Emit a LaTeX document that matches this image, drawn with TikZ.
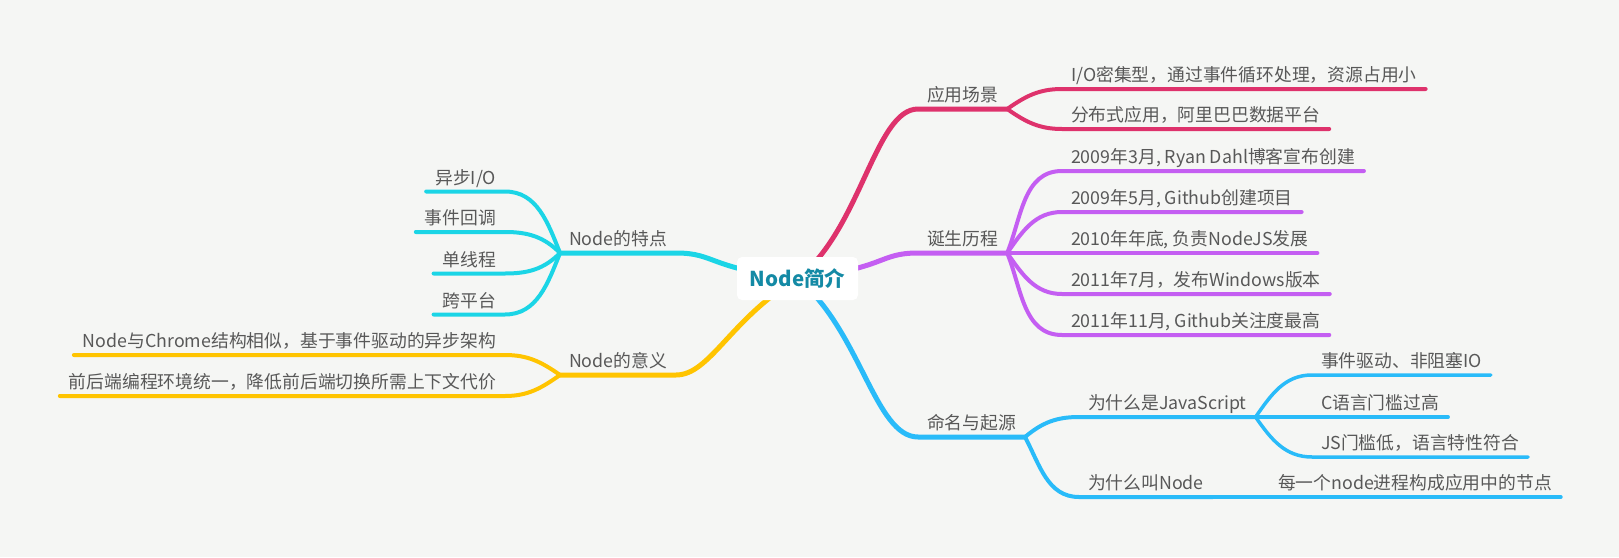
\documentclass[tikz,border=0pt]{standalone}
\usepackage{fontspec}
\setmainfont{Noto Sans CJK SC}
\usepackage{tikz}

\definecolor{paper}{RGB}{245,246,244}
\definecolor{inkgray}{RGB}{88,88,88}
\definecolor{roottext}{RGB}{20,138,165}
\definecolor{appred}{RGB}{222,50,108}
\definecolor{histpurple}{RGB}{196,94,242}
\definecolor{origblue}{RGB}{41,187,249}
\definecolor{featcyan}{RGB}{27,213,230}
\definecolor{meanyellow}{RGB}{255,196,0}

\pgfdeclarelayer{paperlayer}
\pgfdeclarelayer{linklayer}
\pgfsetlayers{paperlayer,linklayer,main}

\tikzset{
  topic/.style={text=inkgray, inner xsep=9pt, inner ysep=4pt, text depth=3.5pt, outer sep=0pt},
  topic r/.style={topic, anchor=south west},
  topic l/.style={topic, anchor=south east},
  centrebox/.style={fill=white, rounded corners=5pt, minimum width=121pt, minimum height=43pt,
    text=roottext, font=\fontsize{20.5}{24}\selectfont\bfseries},
  trunk/.style={line width=5pt, line cap=round},
  link/.style={line width=4pt, line cap=round},
  twig/.style={line width=3.5pt, line cap=round}
}

\begin{document}
\begin{tikzpicture}[
  font=\fontsize{17.8}{21}\selectfont,
  % one unit is one pixel of the 1619x557 sheet
  x=1pt,
  y=1pt
]

% Sheet (top left corner is (0,0), rows go downward)
\useasboundingbox (0,0) rectangle (1619,-557);
\begin{pgfonlayer}{paperlayer}
  \fill[paper] (0,0) rectangle (1619,-557);
\end{pgfonlayer}

% 1) Centre topic
\node[centrebox] (root) at (797.5,-278.5) {Node简介};

% 2) Main topics, the text sits on its own underline
\node[topic r] (app)  at (918,-109) {应用场景};
\node[topic r] (hist) at (918,-253) {诞生历程};
\node[topic r] (orig) at (918,-437) {命名与起源};
\node[topic l] (feat) at (676,-253) {Node的特点};
\node[topic l] (mean) at (676,-375) {Node的意义};

% 3) Right side sub topics
\node[topic r] (io)   at (1062,-89)  {I/O密集型，通过事件循环处理，资源占用小};
\node[topic r] (dist) at (1062,-129) {分布式应用，阿里巴巴数据平台};

\node[topic r] (h1) at (1062,-171) {2009年3月, Ryan Dahl博客宣布创建};
\node[topic r] (h2) at (1062,-212) {2009年5月, Github创建项目};
\node[topic r] (h3) at (1062,-253) {2010年年底, 负责NodeJS发展};
\node[topic r] (h4) at (1062,-294) {2011年7月，发布Windows版本};
\node[topic r] (h5) at (1062,-335) {2011年11月, Github关注度最高};

\node[topic r] (whyjs)    at (1079,-417) {为什么是JavaScript};
\node[topic r] (whynode)  at (1079,-497) {为什么叫Node};
\node[topic r] (js1)      at (1312,-375) {事件驱动、非阻塞IO};
\node[topic r] (js2)      at (1312,-417) {C语言门槛过高};
\node[topic r] (js3)      at (1312,-457) {JS门槛低，语言特性符合};
\node[topic r] (nodeleaf) at (1269,-497) {每一个node进程构成应用中的节点};

% 4) Left side sub topics (right aligned)
\node[topic l] (f1) at (505,-191.5) {异步I/O};
\node[topic l] (f2) at (505,-232)   {事件回调};
\node[topic l] (f3) at (505,-273.5) {单线程};
\node[topic l] (f4) at (505,-314.5) {跨平台};
\node[topic l] (m1) at (505,-355)   {Node与Chrome结构相似，基于事件驱动的异步架构};
\node[topic l] (m2) at (505,-396)   {前后端编程环境统一，降低前后端切换所需上下文代价};

\begin{pgfonlayer}{linklayer}
% 5) Branches out of the centre box
\draw[trunk,appred]     (root.center) .. controls +(63,48) and +(-43,0) .. (app.south west) -- (app.south east);
\draw[trunk,histpurple] (root.center) .. controls +(90,10) and +(-40,0) .. (hist.south west) -- (hist.south east);
\draw[trunk,origblue]   (root.center) .. controls +(63,-52) and +(-43,0) .. (orig.south west) -- (orig.south east);
\draw[trunk,featcyan]   (root.center) .. controls +(-90,10) and +(40,0) .. (feat.south east) -- (feat.south west);
\draw[trunk,meanyellow] (root.center) .. controls +(-67,-40) and +(34,0) .. (mean.south east) -- (mean.south west);

% 6) Forks, red
\draw[link,appred] (app.south east) to[out=35,in=180] (io.south west) -- (io.south east);
\draw[link,appred] (app.south east) to[out=-35,in=180] (dist.south west) -- (dist.south east);

% purple
\draw[link,histpurple] (hist.south east) to[out=68,in=180] (h1.south west) -- (h1.south east);
\draw[link,histpurple] (hist.south east) to[out=55,in=180] (h2.south west) -- (h2.south east);
\draw[link,histpurple] (hist.south east) -- (h3.south west) -- (h3.south east);
\draw[link,histpurple] (hist.south east) to[out=-55,in=180] (h4.south west) -- (h4.south east);
\draw[link,histpurple] (hist.south east) to[out=-68,in=180] (h5.south west) -- (h5.south east);

% blue
\draw[link,origblue] (orig.south east) to[out=40,in=180] (whyjs.south west) -- (whyjs.south east);
\draw[link,origblue] (orig.south east) to[out=-62,in=180] (whynode.south west) -- (whynode.south east);
\draw[twig,origblue] (whyjs.south east) to[out=55,in=180] (js1.south west) -- (js1.south east);
\draw[twig,origblue] (whyjs.south east) -- (js2.south west) -- (js2.south east);
\draw[twig,origblue] (whyjs.south east) to[out=-55,in=180] (js3.south west) -- (js3.south east);
\draw[twig,origblue] (whynode.south east) -- (nodeleaf.south west) -- (nodeleaf.south east);

% cyan
\draw[link,featcyan] (feat.south west) to[out=112,in=0] (f1.south east) -- (f1.south west);
\draw[link,featcyan] (feat.south west) to[out=135,in=0] (f2.south east) -- (f2.south west);
\draw[link,featcyan] (feat.south west) to[out=225,in=0] (f3.south east) -- (f3.south west);
\draw[link,featcyan] (feat.south west) to[out=248,in=0] (f4.south east) -- (f4.south west);

% yellow
\draw[link,meanyellow] (mean.south west) to[out=145,in=0] (m1.south east) -- (m1.south west);
\draw[link,meanyellow] (mean.south west) to[out=215,in=0] (m2.south east) -- (m2.south west);
\end{pgfonlayer}

\end{tikzpicture}
\end{document}
